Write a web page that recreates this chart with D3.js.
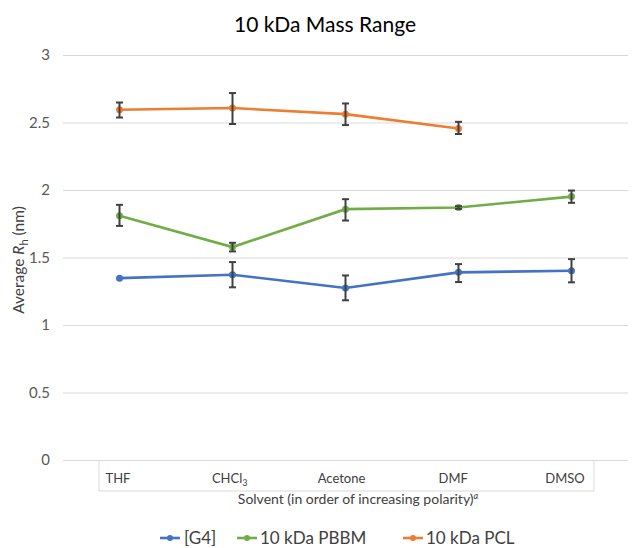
<!DOCTYPE html>
<html>
<head>
<meta charset="utf-8">
<script src="https://cdn.jsdelivr.net/npm/d3@7"></script>
<style>
  body { margin: 0; background: #fff; }
  text { font-family: Lato, "Open Sans", sans-serif; }
</style>
</head>
<body>
<div id="chart"></div>
<script>
// data
var solvents = ["THF", "CHCl3", "Acetone", "DMF", "DMSO"];
var yTicks = [0, 0.5, 1, 1.5, 2, 2.5, 3];
var seriesNames = ["[G4]", "10 kDa PBBM", "10 kDa PCL"];
var seriesColors = ["#4472C4", "#70AD47", "#ED7D31"];

var g4Mean = [1.347, 1.372, 1.274, 1.39, 1.402];
var g4Low  = [1.347, 1.279, 1.183, 1.318, 1.316];
var g4High = [1.347, 1.466, 1.367, 1.451, 1.488];

var pbbmMean = [1.809, 1.577, 1.858, 1.870, 1.951];
var pbbmLow  = [1.734, 1.545, 1.774, 1.860, 1.905];
var pbbmHigh = [1.890, 1.609, 1.932, 1.880, 1.996];

var pclMean = [2.594, 2.607, 2.562, 2.456];
var pclLow  = [2.537, 2.489, 2.481, 2.415];
var pclHigh = [2.648, 2.718, 2.641, 2.505];

var W = 635, H = 548;
var svg = d3.select("#chart").append("svg")
  .attr("width", W).attr("height", H);

var x = d3.scaleBand().domain(solvents).range([63, 628]);
var y = d3.scaleLinear().domain([0, 3]).range([460, 55]);
// category labels sit in their own (slightly narrower) box
var xLab = d3.scalePoint().domain(solvents).range([118, 565]);

// title
svg.append("text")
  .attr("x", 325).attr("y", 32)
  .attr("text-anchor", "middle")
  .attr("font-size", 21).attr("fill", "#000")
  .text("10 kDa Mass Range");

// gridlines + y tick labels
var yAxis = d3.axisLeft(y).tickValues(yTicks).tickSize(-(628 - 63)).tickFormat(d3.format("~g"));
var ya = svg.append("g").attr("transform", "translate(63,0)").call(yAxis);
ya.select(".domain").remove();
ya.selectAll(".tick line").attr("stroke", "#d9d9d9").attr("stroke-width", 1);
ya.selectAll(".tick text")
  .attr("x", -13)
  .attr("font-size", 15).attr("fill", "#595959")
  .style("font-family", "Lato, 'Open Sans', sans-serif");

// y axis title
var yt = svg.append("text")
  .attr("transform", "translate(24,260) rotate(-90)")
  .attr("text-anchor", "middle")
  .attr("font-size", 15.5).attr("fill", "#404040");
yt.append("tspan").text("Average ");
yt.append("tspan").attr("font-style", "italic").text("R");
yt.append("tspan").attr("font-size", 11).attr("dy", 4).text("h");
yt.append("tspan").attr("dy", -4).text(" (nm)");

// category label box
svg.append("path")
  .attr("d", "M99,461V491H594V461")
  .attr("fill", "none").attr("stroke", "#d9d9d9").attr("stroke-width", 1);

solvents.forEach(function(s) {
  var t = svg.append("text")
    .attr("x", xLab(s)).attr("y", 483)
    .attr("text-anchor", "middle")
    .attr("font-size", 13).attr("fill", "#404040");
  if (s === "CHCl3") {
    t.append("tspan").text("CHCl");
    t.append("tspan").attr("font-size", 9).attr("dy", 3).text("3");
  } else {
    t.text(s);
  }
});

// x axis title
var xt = svg.append("text")
  .attr("x", 358).attr("y", 504)
  .attr("text-anchor", "middle")
  .attr("font-size", 14).attr("fill", "#404040");
xt.append("tspan").text("Solvent (in order of increasing polarity)");
xt.append("tspan").attr("font-size", 9).attr("dy", -5).attr("font-style", "italic").text("a");

// series
var series = [
  { mean: g4Mean, low: g4Low, high: g4High },
  { mean: pbbmMean, low: pbbmLow, high: pbbmHigh },
  { mean: pclMean, low: pclLow, high: pclHigh }
];

var cx = function(i) { return x(solvents[i]) + x.bandwidth() / 2; };
var line = d3.line().x(function(d, i) { return cx(i); }).y(function(d) { return y(d); });

series.forEach(function(s, k) {
  var g = svg.append("g");
  g.append("path")
    .datum(s.mean)
    .attr("d", line)
    .attr("fill", "none")
    .attr("stroke", seriesColors[k])
    .attr("stroke-width", 2.6);
  g.selectAll("circle").data(s.mean).enter().append("circle")
    .attr("cx", function(d, i) { return cx(i); })
    .attr("cy", function(d) { return y(d); })
    .attr("r", 3.5)
    .attr("fill", seriesColors[k]);
  // error bars (skip points with no spread)
  var idx = d3.range(s.mean.length).filter(function(i) { return s.high[i] - s.low[i] > 0.001; });
  var eb = g.selectAll("g.err").data(idx).enter().append("g").attr("class", "err");
  eb.append("line")
    .attr("x1", function(i) { return cx(i); })
    .attr("x2", function(i) { return cx(i); })
    .attr("y1", function(i) { return y(s.low[i]); })
    .attr("y2", function(i) { return y(s.high[i]); });
  eb.append("line")
    .attr("x1", function(i) { return cx(i) - 3.5; })
    .attr("x2", function(i) { return cx(i) + 3.5; })
    .attr("y1", function(i) { return y(s.low[i]); })
    .attr("y2", function(i) { return y(s.low[i]); });
  eb.append("line")
    .attr("x1", function(i) { return cx(i) - 3.5; })
    .attr("x2", function(i) { return cx(i) + 3.5; })
    .attr("y1", function(i) { return y(s.high[i]); })
    .attr("y2", function(i) { return y(s.high[i]); });
  eb.selectAll("line").attr("stroke", "#404040").attr("stroke-width", 2);
});

// legend
var legX = [160, 237, 403];
seriesNames.forEach(function(n, k) {
  var lg = svg.append("g").attr("transform", "translate(" + legX[k] + ",538)");
  lg.append("line").attr("x1", 0).attr("x2", 20).attr("y1", 0).attr("y2", 0)
    .attr("stroke", seriesColors[k]).attr("stroke-width", 2.6);
  lg.append("circle").attr("cx", 10).attr("cy", 0).attr("r", 3).attr("fill", seriesColors[k]);
  lg.append("text").attr("x", k === 0 ? 24 : 23).attr("y", 6)
    .attr("font-size", 17).attr("fill", "#404040").text(n);
});
</script>
</body>
</html>
